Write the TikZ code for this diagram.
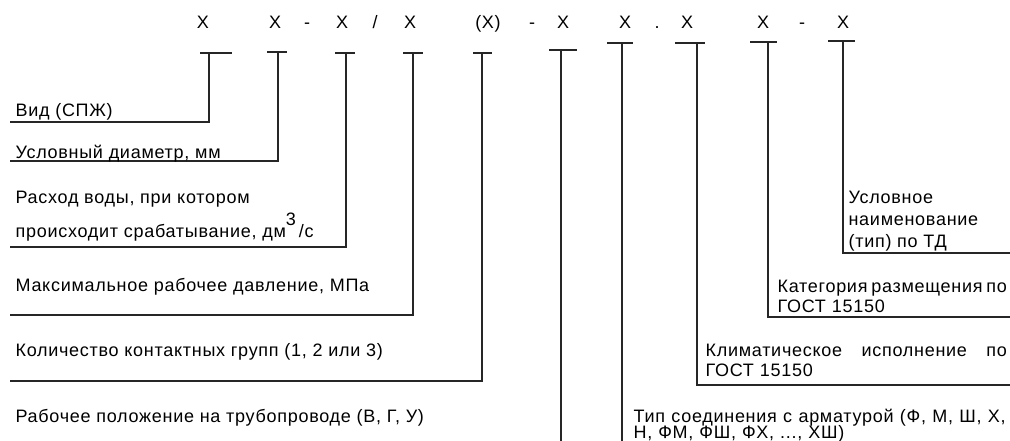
\documentclass[tikz,border=0pt]{standalone}
\usepackage{fontspec}
\setmainfont{Liberation Sans}[LetterSpace=4]
\usetikzlibrary{calc}
\def\tbar(#1)(#2:#3){\draw ($(#1)+(#2,0)$) -- ($(#1)+(#3,0)$);}

\begin{document}
\begin{tikzpicture}[x=0.75pt, y=-0.75pt, line width=0.9pt, color=black!85,
		every node/.style={font=\fontsize{13.5}{15}\selectfont, inner sep=0pt, text=black},
		lbl/.style={anchor=base west, align=left},
		codemark/.style={anchor=base}]
			%%%%% START %%%%%
			\useasboundingbox (0, 0) rectangle (1010, 441);
			
			\node[codemark] (x1) at (203, 29) {X};
			\node[codemark] (x2) at (275, 29) {X};
			\node[codemark] (s1) at (307, 29) {-};
			\node[codemark] (x3) at (342, 29) {X};
			\node[codemark] (s2) at (375, 29) {/};
			\node[codemark] (x4) at (410, 29) {X};
			\node[codemark] (x5) at (488, 29) {(X)};
			\node[codemark] (s3) at (532, 29) {-};
			\node[codemark] (x6) at (563, 29) {X};
			\node[codemark] (x7) at (625, 29) {X};
			\node[codemark] (s4) at (657, 29) {.};
			\node[codemark] (x8) at (687, 29) {X};
			\node[codemark] (x9) at (763, 29) {X};
			\node[codemark] (s5) at (802, 29) {-};
			\node[codemark] (x10) at (843, 29) {X};
			
			\coordinate (b1) at (209, 53);
			\coordinate (b2) at (278, 52);
			\coordinate (b3) at (346, 53);
			\coordinate (b4) at (413, 53);
			\coordinate (b5) at (482, 53);
			\coordinate (b6) at (561, 50);
			\coordinate (b7) at (622, 43);
			\coordinate (b8) at (697, 43);
			\coordinate (b9) at (768, 42);
			\coordinate (b10) at (843, 41);
			
			\tbar(b1)(-9:23)
			\tbar(b2)(-11:9)
			\tbar(b3)(-11:9)
			\tbar(b4)(-10:10)
			\tbar(b5)(-9:10)
			\tbar(b6)(-12:16)
			\tbar(b7)(-15:11)
			\tbar(b8)(-22:8)
			\tbar(b9)(-18:9)
			\tbar(b10)(-15:12)
			
			\coordinate (e1) at (10, 122);
			\coordinate (e2) at (10, 161);
			\coordinate (e3) at (10, 247);
			\coordinate (e4) at (10, 315);
			\coordinate (e5) at (10, 381);
			\coordinate (e6) at (561, 441);
			\coordinate (e7) at (622, 441);
			\coordinate (e8) at (1010, 385);
			\coordinate (e9) at (1010, 317);
			\coordinate (e10) at (1010, 253);
			
			\draw (b1) |- (e1);
			\draw (b2) |- (e2);
			\draw (b3) |- (e3);
			\draw (b4) |- (e4);
			\draw (b5) |- (e5);
			\draw (b6) -- (e6);
			\draw (b7) -- (e7);
			\draw (b8) |- (e8);
			\draw (b9) |- (e9);
			\draw (b10) |- (e10);
			
			% align only: last baseline, text width: first baseline
			\node[lbl] (vid) at (15, 117) {Вид (СПЖ)};
			\node[lbl] (diam) at (15, 159) {Условный диаметр, мм};
			\node[lbl] (rashod) at (15, 238) {Расход воды, при котором\\[11pt]
				происходит срабатывание, дм\smash{\raisebox{1.3ex}{3}}\,/с};
			\node[lbl] (davl) at (15, 292) {Максимальное рабочее давление, МПа};
			\node[lbl] (kont) at (15, 357) {Количество контактных групп (1, 2 или 3)};
			\node[lbl] (polozh) at (15, 422) {Рабочее положение на трубопроводе (В, Г, У)};
			
			\node[lbl, text width=279pt] (soed) at (633, 422) {Тип\hfill соединения\hfill с\hfill арматурой\hfill (Ф,\hfill М,\hfill Ш,\hfill Х,\\[-3pt]
				Н, ФМ, ФШ, ФХ, ..., ХШ)};
			\node[lbl, text width=226pt] (klim) at (705, 357) {Климатическое\hfill исполнение\hfill по\\ГОСТ 15150};
			\node[lbl, text width=172pt] (kateg) at (777, 293) {Категория\hfill размещения\hfill по\\ГОСТ 15150};
			\node[lbl, font=\fontsize{13.5}{16.5}\selectfont] (naim) at (848, 248) {Условное\\наименование\\(тип) по ТД};
			
			%%%%% END %%%%%
		\end{tikzpicture}
\end{document}
